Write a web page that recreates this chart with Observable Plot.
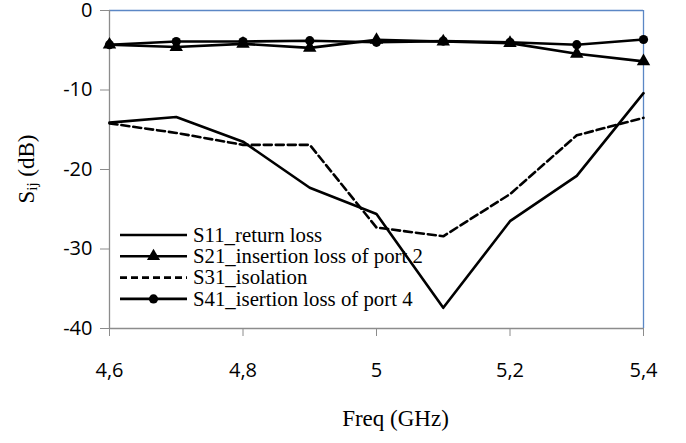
<!DOCTYPE html>
<html><head><meta charset="utf-8">
<script src="https://cdn.jsdelivr.net/npm/d3@7"></script>
<script src="https://cdn.jsdelivr.net/npm/@observablehq/plot@0.6"></script>
<style>body{margin:0;background:#fff;}</style>
</head><body><div id="chart"></div>
<script>
const freq = [4.6, 4.7, 4.8, 4.9, 5.0, 5.1, 5.2, 5.3, 5.4];
const s11 = [-14.1, -13.4, -16.5, -22.3, -25.6, -37.4, -26.5, -20.8, -10.4];
const s21 = [-4.3, -4.6, -4.2, -4.7, -3.7, -3.9, -4.1, -5.45, -6.4];
const s31 = [-14.2, -15.4, -16.9, -16.9, -27.3, -28.4, -23.1, -15.7, -13.5];
const s41 = [-4.3, -3.9, -3.9, -3.8, -4.0, -3.85, -4.0, -4.3, -3.65];
const xTicks = [4.6, 4.8, 5.0, 5.2, 5.4];
const yTicks = [0, -10, -20, -30, -40];
const seriesNames = ["S11_return loss", "S21_insertion loss of port 2", "S31_isolation", "S41_isertion loss of port 4"];
const xTitle = "Freq (GHz)";

const rows = (ys) => freq.map((f, i) => ({f, v: ys[i]}));
const d11 = rows(s11), d21 = rows(s21), d31 = rows(s31), d41 = rows(s41);

const blue = "#5b87c5", gray = "#8c8c8c";
const W = 686, H = 443, mL = 109, mT = 10, mR = 43, mB = 115;

const chart = Plot.plot({
  width: W, height: H,
  marginLeft: mL, marginRight: mR, marginTop: mT, marginBottom: mB,
  style: {fontFamily: "'Open Sans', sans-serif", fontSize: "20px", color: "#000", background: "#fff", overflow: "visible"},
  x: {domain: [4.6, 5.4]},
  y: {domain: [-40, 0]},
  marks: [
    Plot.ruleY([0], {stroke: blue, strokeWidth: 1.3}),
    Plot.ruleX([5.4], {stroke: blue, strokeWidth: 1.3}),
    Plot.ruleX([4.6], {stroke: gray, strokeWidth: 1.3}),
    Plot.ruleY([-40], {stroke: gray, strokeWidth: 1.3}),
    Plot.axisX({ticks: xTicks, tickFormat: d => String(d).replace(".", ","), tickSize: 8, tickPadding: 26, stroke: gray, fill: "#000", label: null}),
    Plot.axisY({ticks: yTicks, tickFormat: d => String(d), tickSize: 9, tickPadding: 8, stroke: gray, fill: "#000", label: null}),
    Plot.line(d11, {x: "f", y: "v", stroke: "#000", strokeWidth: 2.6}),
    Plot.line(d31, {x: "f", y: "v", stroke: "#000", strokeWidth: 2.6, strokeDasharray: "8,4"}),
    Plot.line(d21, {x: "f", y: "v", stroke: "#000", strokeWidth: 2.6}),
    Plot.line(d41, {x: "f", y: "v", stroke: "#000", strokeWidth: 2.6}),
    Plot.dot(d21, {x: "f", y: "v", symbol: "triangle", r: 5, fill: "#000"}),
    Plot.dot(d41, {x: "f", y: "v", symbol: "circle", r: 4.6, fill: "#000"}),
    Plot.text([xTitle], {frameAnchor: "bottom", dy: 97, dx: 19, fontFamily: "'Liberation Serif', serif", fontSize: 23, fill: "#000"})
  ]
});
document.getElementById("chart").appendChild(chart);

const svg = d3.select(chart);
// y axis title with subscript
const yt = svg.append("text")
  .attr("transform", `translate(29,${(mT + (H - mB)) / 2}) rotate(-90)`)
  .attr("text-anchor", "middle")
  .attr("dominant-baseline", "middle")
  .style("font-family", "'Liberation Serif', serif")
  .style("font-size", "23px")
  .attr("fill", "#000");
yt.append("tspan").text("S");
yt.append("tspan").attr("dy", 5).style("font-size", "15px").text("ij");
yt.append("tspan").attr("dy", -5).text(" (dB)");

// legend (beneath data lines)
const lg = svg.insert("g", "g");
const styles = [
  {dash: null, sym: null},
  {dash: null, sym: "triangle"},
  {dash: "7,4", sym: null},
  {dash: null, sym: "circle"}
];
seriesNames.forEach((name, i) => {
  const y = 235 + i * 21.3;
  lg.append("line").attr("x1", 120).attr("x2", 187).attr("y1", y).attr("y2", y)
    .attr("stroke", "#000").attr("stroke-width", 2.6)
    .attr("stroke-dasharray", styles[i].dash);
  if (styles[i].sym) {
    lg.append("path").attr("transform", `translate(153.5,${y})`)
      .attr("d", d3.symbol(styles[i].sym === "triangle" ? d3.symbolTriangle : d3.symbolCircle, styles[i].sym === "triangle" ? 75 : 66)())
      .attr("fill", "#000");
  }
  lg.append("text").attr("x", 193).attr("y", y).attr("dy", "0.32em")
    .attr("text-anchor", "start")
    .style("font-family", "'Liberation Serif', serif").style("font-size", "20.8px")
    .attr("fill", "#000").text(name);
});
</script>
</body></html>
